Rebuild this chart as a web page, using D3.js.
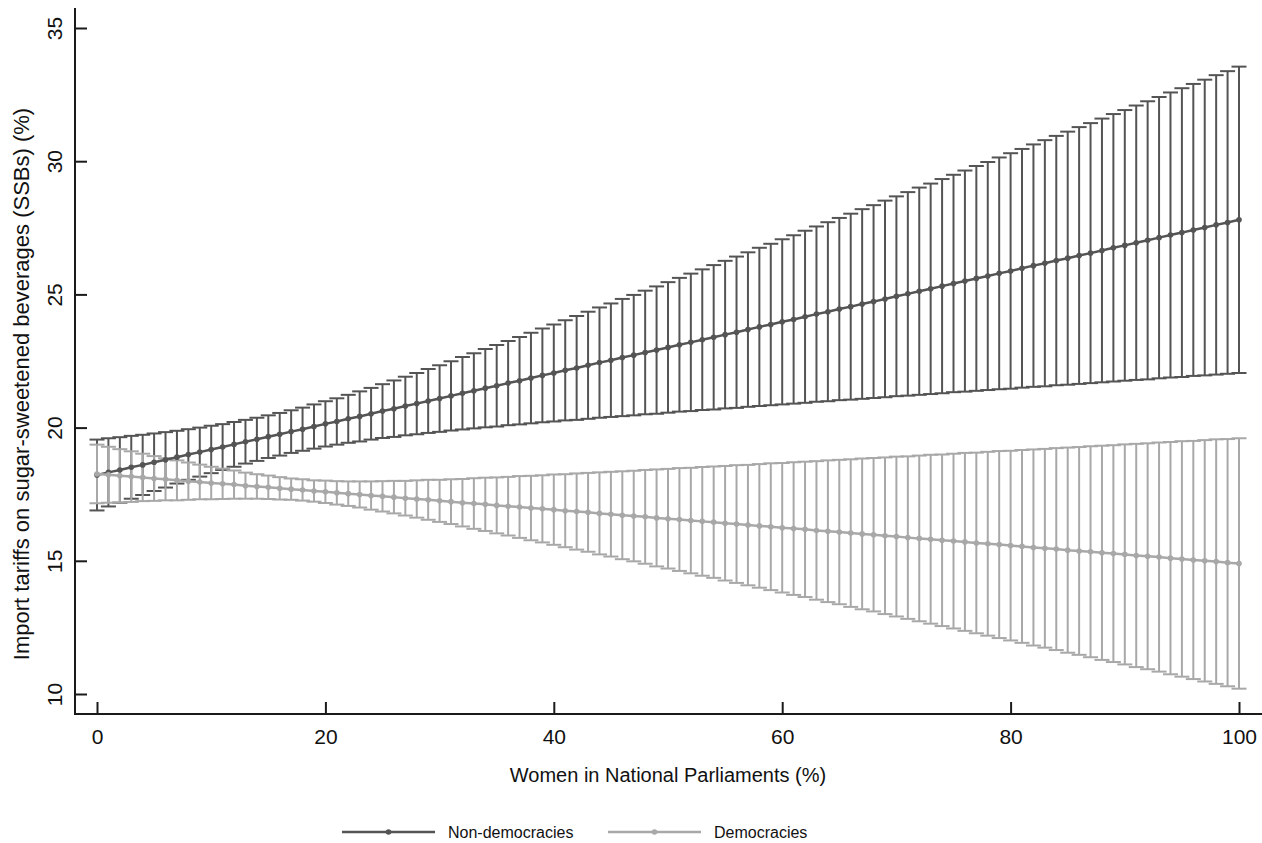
<!DOCTYPE html>
<html>
<head>
<meta charset="utf-8">
<script src="https://cdn.jsdelivr.net/npm/d3@7"></script>
<style>
  body { margin: 0; background: #fff; }
  svg { display: block; font-family: "Liberation Sans", Arial, Helvetica, sans-serif; }
</style>
</head>
<body>
<div id="chart"></div>
<script>
// share of women in parliament, 0..100
const womenPct = d3.range(0, 101);

// Non-democracies: estimate and 95% CI half width
const nonDemEst = [
  18.22, 18.32, 18.41, 18.51, 18.60, 18.70, 18.79, 18.89, 18.99, 19.08,
  19.18, 19.27, 19.37, 19.47, 19.56, 19.66, 19.75, 19.85, 19.94, 20.04,
  20.14, 20.23, 20.33, 20.42, 20.52, 20.62, 20.71, 20.81, 20.90, 21.00,
  21.09, 21.19, 21.29, 21.38, 21.48, 21.57, 21.67, 21.76, 21.86, 21.96,
  22.05, 22.15, 22.24, 22.34, 22.44, 22.53, 22.63, 22.72, 22.82, 22.91,
  23.01, 23.11, 23.20, 23.30, 23.39, 23.49, 23.58, 23.68, 23.78, 23.87,
  23.97, 24.06, 24.16, 24.26, 24.35, 24.45, 24.54, 24.64, 24.73, 24.83,
  24.93, 25.02, 25.12, 25.21, 25.31, 25.41, 25.50, 25.60, 25.69, 25.79,
  25.88, 25.98, 26.08, 26.17, 26.27, 26.36, 26.46, 26.55, 26.65, 26.75,
  26.84, 26.94, 27.03, 27.13, 27.23, 27.32, 27.42, 27.51, 27.61, 27.70,
  27.80
];
const nonDemCI = [
  1.33, 1.28, 1.23, 1.18, 1.13, 1.08, 1.04, 0.99, 0.95, 0.92,
  0.89, 0.86, 0.84, 0.82, 0.81, 0.80, 0.80, 0.80, 0.81, 0.83,
  0.85, 0.87, 0.90, 0.94, 0.97, 1.01, 1.06, 1.10, 1.15, 1.20,
  1.25, 1.30, 1.36, 1.41, 1.47, 1.53, 1.58, 1.64, 1.70, 1.76,
  1.82, 1.88, 1.95, 2.01, 2.07, 2.13, 2.20, 2.26, 2.32, 2.39,
  2.45, 2.51, 2.58, 2.64, 2.71, 2.77, 2.84, 2.90, 2.97, 3.03,
  3.10, 3.16, 3.23, 3.29, 3.36, 3.42, 3.49, 3.56, 3.62, 3.69,
  3.75, 3.82, 3.89, 3.95, 4.02, 4.08, 4.15, 4.22, 4.28, 4.35,
  4.42, 4.48, 4.55, 4.62, 4.68, 4.75, 4.82, 4.88, 4.95, 5.02,
  5.08, 5.15, 5.22, 5.28, 5.35, 5.42, 5.48, 5.55, 5.62, 5.68,
  5.75
];

// Democracies: estimate and 95% CI half width
const demEst = [
  18.26, 18.23, 18.19, 18.16, 18.13, 18.09, 18.06, 18.02, 17.99, 17.96,
  17.92, 17.89, 17.86, 17.82, 17.79, 17.76, 17.72, 17.69, 17.66, 17.62,
  17.59, 17.55, 17.52, 17.49, 17.45, 17.42, 17.39, 17.35, 17.32, 17.29,
  17.25, 17.22, 17.18, 17.15, 17.12, 17.08, 17.05, 17.02, 16.98, 16.95,
  16.92, 16.88, 16.85, 16.82, 16.78, 16.75, 16.71, 16.68, 16.65, 16.61,
  16.58, 16.55, 16.51, 16.48, 16.45, 16.41, 16.38, 16.34, 16.31, 16.28,
  16.24, 16.21, 16.18, 16.14, 16.11, 16.08, 16.04, 16.01, 15.98, 15.94,
  15.91, 15.87, 15.84, 15.81, 15.77, 15.74, 15.71, 15.67, 15.64, 15.61,
  15.57, 15.54, 15.50, 15.47, 15.44, 15.40, 15.37, 15.34, 15.30, 15.27,
  15.24, 15.20, 15.17, 15.14, 15.10, 15.07, 15.03, 15.00, 14.97, 14.93,
  14.90
];
const demCI = [
  1.10, 1.05, 1.00, 0.95, 0.89, 0.84, 0.79, 0.75, 0.70, 0.65,
  0.61, 0.57, 0.53, 0.49, 0.46, 0.44, 0.42, 0.40, 0.40, 0.40,
  0.42, 0.44, 0.46, 0.49, 0.53, 0.57, 0.61, 0.65, 0.70, 0.75,
  0.79, 0.84, 0.89, 0.95, 1.00, 1.05, 1.10, 1.16, 1.21, 1.26,
  1.32, 1.37, 1.43, 1.48, 1.54, 1.59, 1.65, 1.70, 1.76, 1.82,
  1.87, 1.93, 1.98, 2.04, 2.09, 2.15, 2.21, 2.26, 2.32, 2.38,
  2.43, 2.49, 2.54, 2.60, 2.66, 2.71, 2.77, 2.83, 2.88, 2.94,
  3.00, 3.05, 3.11, 3.17, 3.22, 3.28, 3.34, 3.39, 3.45, 3.51,
  3.56, 3.62, 3.68, 3.73, 3.79, 3.85, 3.90, 3.96, 4.02, 4.07,
  4.13, 4.19, 4.24, 4.30, 4.36, 4.42, 4.47, 4.53, 4.59, 4.64,
  4.70
];

const xTicks = [0, 20, 40, 60, 80, 100];
const yTicks = [10, 15, 20, 25, 30, 35];
const seriesNames = ["Non-democracies", "Democracies"];
const seriesColors = ["#545454", "#a8a8a8"];

const buildSeries = (est, ci) => {
  return womenPct.map((w, i) => {
    return { x: w, y: est[i], lo: est[i] - ci[i], hi: est[i] + ci[i] };
  });
};

const series = [
  { name: seriesNames[0], color: seriesColors[0], data: buildSeries(nonDemEst, nonDemCI) },
  { name: seriesNames[1], color: seriesColors[1], data: buildSeries(demEst, demCI) },
];

const W = 1262, H = 843;
const axisX = 75, axisY = 714;
const svg = d3.select("#chart").append("svg").attr("width", W).attr("height", H);

const x = d3.scaleLinear().domain([0, 100]).range([97, 1239]);
const y = d3.scaleLinear().domain([10, 35]).range([694, 28]);
const capHalf = 7.5;
const axisColor = "#1a1a1a";

// error bars (caps) first, for both series
for (const s of series) {
  const g = svg.append("g").attr("stroke", s.color).attr("stroke-width", 2).attr("fill", "none");
  g.selectAll("line.bar").data(s.data).join("line").attr("class", "bar")
    .attr("x1", d => x(d.x)).attr("x2", d => x(d.x))
    .attr("y1", d => y(d.lo)).attr("y2", d => y(d.hi));
  g.selectAll("line.capHi").data(s.data).join("line").attr("class", "capHi")
    .attr("x1", d => x(d.x) - capHalf).attr("x2", d => x(d.x) + capHalf)
    .attr("y1", d => y(d.hi)).attr("y2", d => y(d.hi));
  g.selectAll("line.capLo").data(s.data).join("line").attr("class", "capLo")
    .attr("x1", d => x(d.x) - capHalf).attr("x2", d => x(d.x) + capHalf)
    .attr("y1", d => y(d.lo)).attr("y2", d => y(d.lo));
}

// estimate lines with markers on top
const line = d3.line().x(d => x(d.x)).y(d => y(d.y));
for (const s of series) {
  svg.append("path").datum(s.data)
    .attr("fill", "none").attr("stroke", s.color).attr("stroke-width", 2.5)
    .attr("d", line);
  svg.append("g").selectAll("circle").data(s.data).join("circle")
    .attr("cx", d => x(d.x)).attr("cy", d => y(d.y)).attr("r", 2.8)
    .attr("fill", s.color);
}

// axes
const gx = svg.append("g").attr("transform", `translate(0,${axisY})`)
  .call(d3.axisBottom(x).tickValues(xTicks).tickSizeInner(-12).tickSizeOuter(0));
gx.select(".domain").remove();
gx.selectAll(".tick line").attr("stroke", axisColor).attr("stroke-width", 2);
gx.selectAll(".tick text").attr("fill", "#111").style("font-size", "21px").attr("y", 30).attr("dy", 0);

const gy = svg.append("g").attr("transform", `translate(${axisX},0)`)
  .call(d3.axisLeft(y).tickValues(yTicks).tickSizeInner(-12).tickSizeOuter(0));
gy.select(".domain").remove();
gy.selectAll(".tick line").attr("stroke", axisColor).attr("stroke-width", 2);
gy.selectAll(".tick text")
  .attr("transform", "rotate(-90)")
  .attr("x", 0).attr("y", -13).attr("dy", 0)
  .attr("text-anchor", "middle")
  .attr("fill", "#111").style("font-size", "21px");

svg.append("line").attr("x1", axisX).attr("x2", W).attr("y1", axisY).attr("y2", axisY)
  .attr("stroke", axisColor).attr("stroke-width", 2);
svg.append("line").attr("x1", axisX).attr("x2", axisX).attr("y1", 8).attr("y2", axisY + 1)
  .attr("stroke", axisColor).attr("stroke-width", 2);

// axis titles
svg.append("text").attr("x", 668).attr("y", 782).attr("text-anchor", "middle")
  .style("font-size", "20px").attr("fill", "#111").text("Women in National Parliaments (%)");
svg.append("text").attr("transform", `translate(29,${384}) rotate(-90)`).attr("text-anchor", "middle")
  .style("font-size", "22px").attr("fill", "#111")
  .text("Import tariffs on sugar-sweetened beverages (SSBs) (%)");

// legend
const legendX = [342, 608];
const legendY = 832;
series.forEach((s, i) => {
  const lg = svg.append("g").attr("transform", `translate(${legendX[i]},${legendY})`);
  lg.append("line").attr("x1", 0).attr("x2", 93).attr("stroke", s.color).attr("stroke-width", 2.5);
  lg.append("circle").attr("cx", 46.5).attr("r", 2.8).attr("fill", s.color);
  lg.append("text").attr("x", 106).attr("y", 5.5).style("font-size", "16px").attr("fill", "#111").text(s.name);
});
</script>
</body>
</html>
